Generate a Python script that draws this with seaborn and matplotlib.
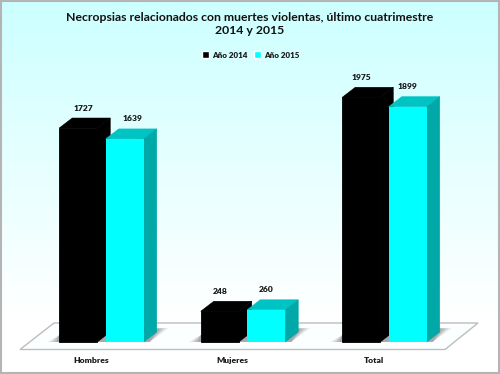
import numpy as np
import pandas as pd
import matplotlib
matplotlib.use("Agg")
import matplotlib.pyplot as plt
from matplotlib.patches import Polygon, Rectangle
from matplotlib.transforms import Affine2D
import seaborn as sns

categories = ["Hombres", "Mujeres", "Total"]
years = ["Año 2014", "Año 2015"]
values_2014 = [1727, 248, 1975]
values_2015 = [1639, 260, 1899]

W, H = 500, 374
BASE_Y = 342          # pixel row of value 0
PX_PER_UNIT = 0.1239
GROUP_X = 101.5       # pixel column of first category
PITCH = 141.5
DX, DY = 13, 10       # 3D depth of the bars, pixels

df = pd.DataFrame({
    "grupo": categories * 2,
    "anio": [years[0]] * 3 + [years[1]] * 3,
    "valor": values_2014 + values_2015,
})

sns.set_theme(style="white")
plt.rcParams["font.family"] = ["Lato", "DejaVu Sans"]

fig = plt.figure(figsize=(W / 100, H / 100), dpi=100)
ax = fig.add_axes([0, 0, 1, 1])
sns.barplot(data=df, x="grupo", y="valor", hue="anio", ax=ax,
            palette=["#000000", "#00ffff"], width=0.657, gap=0.183,
            saturation=1, errorbar=None)

ax.set_xlim(-GROUP_X / PITCH, (W - GROUP_X) / PITCH)
ax.set_ylim(-(H - BASE_Y) / PX_PER_UNIT, BASE_Y / PX_PER_UNIT)
ax.axis("off")

# pixel coordinates (y down) for the decoration
px = Affine2D().scale(1 / W, -1 / H).translate(0, 1) + fig.transFigure
dx = DX / (PITCH)
dy = DY / PX_PER_UNIT


def to_px(x, y):
    return GROUP_X + x * PITCH, BASE_Y - y * PX_PER_UNIT


# background gradient
grad = np.ones((H, 1, 3))
t = np.clip(np.linspace(0, 1, H) / 0.85, 0, 1)
grad[:, 0, 0] = 0.80 + 0.20 * t
grad[:, 0, 1] = 1.0
grad[:, 0, 2] = 1.0
bg = fig.add_axes([0, 0, 1, 1], zorder=-1)
bg.imshow(grad, aspect="auto", extent=(0, W, H, 0))
bg.axis("off")
ax.patch.set_alpha(0)

# floor
ax.add_patch(Polygon([(20, 349.5), (445, 349.5), (478, 323), (54, 323)], closed=True,
                     facecolor="#fbffff", edgecolor="#bdbdbd", lw=1.0,
                     transform=px, zorder=1))

colors = {0: ("#000000", "#000000"), 1: ("#00c4c4", "#00a8a8")}
for s, container in enumerate(ax.containers):
    top_col, side_col = colors[s]
    for bar in container:
        x0, x1 = bar.get_x(), bar.get_x() + bar.get_width()
        h = bar.get_height()
        z = 3 + s
        bar.set_zorder(z + 0.1)
        if s == 0:
            bar.set_edgecolor("#000000")
            bar.set_linewidth(0.6)
        else:
            bar.set_linewidth(0)
        ax.add_patch(Polygon([(x0, h), (x1, h), (x1 + dx, h + dy), (x0 + dx, h + dy)],
                             facecolor=top_col, edgecolor=top_col, lw=0.4, zorder=z))
        ax.add_patch(Polygon([(x1, 0), (x1 + dx, dy), (x1 + dx, h + dy), (x1, h)],
                             facecolor=side_col, edgecolor=side_col, lw=0.4, zorder=z))

# soft shadows under each group
for left, right in zip(ax.containers[0], ax.containers[1]):
    lx, _ = to_px(left.get_x(), 0)
    rx, _ = to_px(right.get_x() + right.get_width(), 0)
    for grow, alpha in zip([12, 9, 6, 3], [0.15, 0.22, 0.28, 0.3]):
        ax.add_patch(Polygon([(lx - grow, BASE_Y), (rx + 6, BASE_Y), (rx + DX + grow, BASE_Y - 14),
                              (lx, BASE_Y - 7)],
                             facecolor="#808080", alpha=alpha, lw=0, transform=px, zorder=2))

# value labels, two of them sit off centre in the original
shift = {(0, 0): 5, (1, 0): 8}
for s, container in enumerate(ax.containers):
    vals = [values_2014, values_2015][s]
    for i, bar in enumerate(container):
        cx, top = to_px(bar.get_x() + bar.get_width() / 2, vals[i])
        ax.text(cx + shift.get((s, i), 0), top - 20, str(vals[i]), transform=px, ha="center", va="center",
                fontsize=6.1, fontweight="heavy", color="#1a1a1a", zorder=6)

# category labels
for i, name in enumerate(categories):
    ax.text(GROUP_X + i * PITCH - 10.5, 361, name, transform=px, ha="center", va="center",
            fontsize=6.1, fontweight="heavy", color="#1a1a1a", zorder=6)

ax.text(249.5, 17.5, "Necropsias relacionados con muertes violentas, último cuatrimestre",
        transform=px, ha="center", va="center", fontsize=8.85, fontweight="bold",
        color="#111111", zorder=6)
ax.text(249.5, 30.5, "2014 y 2015",
        transform=px, ha="center", va="center", fontsize=8.85, fontweight="bold",
        color="#111111", zorder=6)

leg = ax.legend(loc="center", bbox_to_anchor=(251 / W, 1 - 55 / H), ncols=2, frameon=False,
                fontsize=5.8, handlelength=0.85, handleheight=0.85, handletextpad=0.45,
                columnspacing=0.75, title=None)
for t_ in leg.get_texts():
    t_.set_fontweight("heavy")
    t_.set_color("#1a1a1a")

# outer frame
ax.add_patch(Rectangle((1, 1), W - 2, H - 2, facecolor="none", edgecolor="#b4b4b4", lw=1.5,
                       transform=px, zorder=7, clip_on=False))

fig.savefig("out.png", dpi=100)
